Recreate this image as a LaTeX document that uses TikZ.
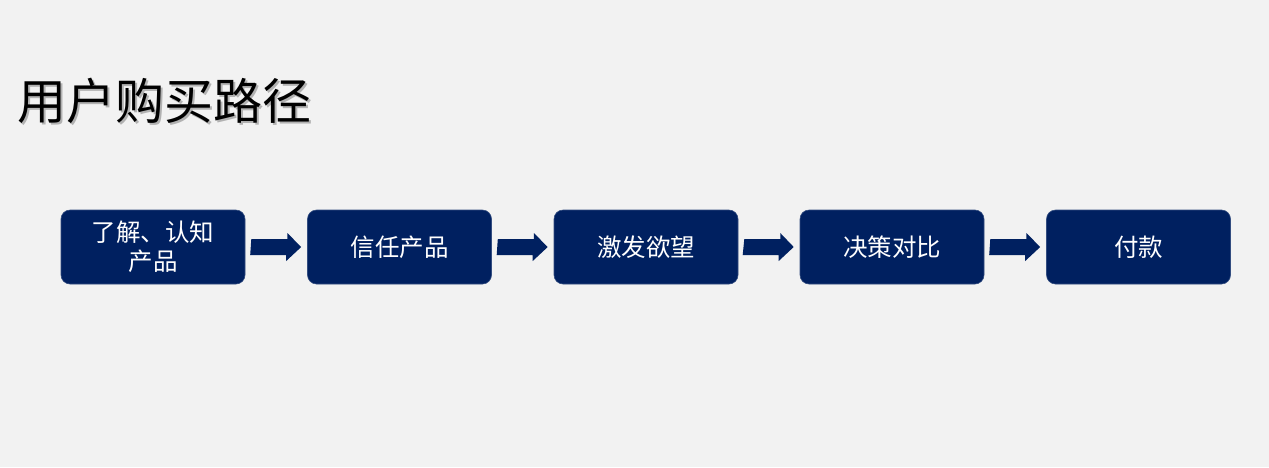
\documentclass[tikz,border=0pt]{standalone}
\usepackage{fontspec}
\setmainfont{Noto Sans CJK SC}
\definecolor{bg}{HTML}{F2F2F2}
\definecolor{navy}{HTML}{002060}
\tikzset{
  stepbox/.style={fill=navy, draw=navy!80!white, line width=0.6pt, rounded corners=9pt, minimum width=184pt, minimum height=74pt, text=white, font=\fontsize{24.5}{29}\selectfont, align=center, inner sep=0pt},
  blockarrow/.style={fill=navy, draw=none}
}
\begin{document}
\begin{tikzpicture}[x=1pt,y=-1pt]
\fill[bg] (0,0) rectangle (1269,467);
\useasboundingbox (0,0) rectangle (1269,467);
\node[anchor=west, text=black!30, font=\fontsize{49}{52}\selectfont, inner sep=0pt] (titleshadow) at (17+2,101+2) {用户购买路径};
\node[anchor=west, text=black, font=\fontsize{49}{52}\selectfont, inner sep=0pt] (title) at (17,101) {用户购买路径};
\node[stepbox] (s1) at (153,247) {了解、认知\\产品};
\node[stepbox] (s2) at (399.5,247) {信任产品};
\node[stepbox] (s3) at (646,247) {激发欲望};
\node[stepbox] (s4) at (892,247) {决策对比};
\node[stepbox] (s5) at (1138.5,247) {付款};
\foreach \a/\b in {s1/s2,s2/s3,s3/s4,s4/s5}{
  \path (\a.east) ++(6,0) coordinate (st) ;
  \path (\b.west) ++(-6,0) coordinate (en) ;
  \fill[blockarrow] (st) ++(0,-8) -- ++(36,0) -- ++(0,-6) -- (en) -- ++(-15,14) -- ++(0,-6) -- ++(-36,0) -- cycle;
}
\end{tikzpicture}
\end{document}
